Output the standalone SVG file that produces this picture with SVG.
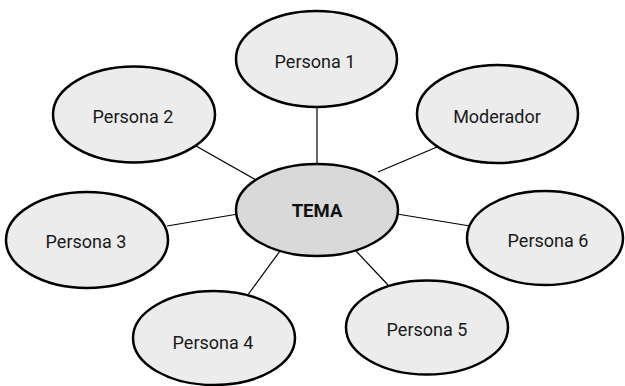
<svg xmlns="http://www.w3.org/2000/svg" width="625" height="386" viewBox="0 0 625 386">
<style>
.n{fill:#ececec;stroke:#000;stroke-width:2.5}
.c{fill:#d9d9d9;stroke:#000;stroke-width:2.5}
.t{font-family:Roboto,"Liberation Sans",sans-serif;font-size:18px;fill:#1a1a1a;text-anchor:middle}
.b{font-family:Roboto,"Liberation Sans",sans-serif;font-size:18.5px;font-weight:bold;fill:#111;text-anchor:middle}
.l{stroke:#000;stroke-width:1.2;fill:none}
</style>
<rect width="625" height="386" fill="#fff"/>
<g id="connectors">
<line class="l" x1="317" y1="107" x2="317" y2="164"/>
<line class="l" x1="196" y1="146" x2="256" y2="180"/>
<line class="l" x1="437" y1="147" x2="378" y2="172"/>
<line class="l" x1="167" y1="226" x2="238" y2="214"/>
<line class="l" x1="397" y1="214" x2="470" y2="226"/>
<line class="l" x1="247" y1="296" x2="280" y2="251"/>
<line class="l" x1="388" y1="285" x2="356" y2="251"/>
</g>
<g id="tema"><ellipse class="c" cx="317" cy="210" rx="81" ry="46"/><text class="b" x="317" y="217">TEMA</text></g>
<g id="persona1"><ellipse class="n" cx="316.5" cy="59" rx="80.5" ry="48"/><text class="t" x="315" y="68">Persona 1</text></g>
<g id="persona2"><ellipse class="n" cx="134" cy="114.5" rx="81" ry="48"/><text class="t" x="133" y="123">Persona 2</text></g>
<g id="moderador"><ellipse class="n" cx="497.5" cy="114" rx="80.5" ry="49"/><text class="t" x="497" y="123">Moderador</text></g>
<g id="persona3"><ellipse class="n" cx="87" cy="240" rx="81" ry="48"/><text class="t" x="86" y="248">Persona 3</text></g>
<g id="persona6"><ellipse class="n" cx="545" cy="238" rx="78" ry="47"/><text class="t" x="548" y="247">Persona 6</text></g>
<g id="persona4"><ellipse class="n" cx="214" cy="338" rx="81" ry="47"/><text class="t" x="213" y="349">Persona 4</text></g>
<g id="persona5"><ellipse class="n" cx="427" cy="327.5" rx="81" ry="47"/><text class="t" x="427" y="336">Persona 5</text></g>
</svg>
